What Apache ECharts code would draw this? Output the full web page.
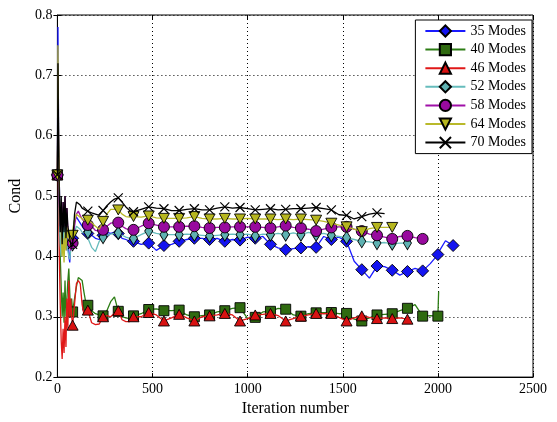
<!DOCTYPE html>
<html>
<head>
<meta charset="utf-8">
<script src="https://cdn.jsdelivr.net/npm/echarts@6/dist/echarts.min.js"></script>
<style>
  html, body { margin: 0; padding: 0; background: #fff; }
  #chart { width: 557px; height: 422px; }
</style>
</head>
<body>
<div id="chart"></div>
<script>
// Iteration numbers at which the condition estimate was recorded
const iterations = [
  0, 3, 6, 10, 15, 20, 25, 30, 35, 40, 45, 50, 55, 60, 65, 70, 75, 80,
  90, 100, 110, 120, 130, 140, 150, 160,
  180, 200, 220, 240,
  260, 280, 300, 320, 340, 360, 380, 400,
  440, 480, 520, 560, 600, 640, 680, 720, 760, 800, 840, 880, 920, 960, 1000,
  1040, 1080, 1120, 1160, 1200, 1240, 1280, 1320, 1360, 1400, 1440, 1480, 1520,
  1560, 1600, 1640, 1680, 1720, 1760, 1800, 1840, 1880, 1920, 1960, 2000,
  2004, 2040, 2080
];

const cond35 = [
  0.535, 0.78, 0.62, 0.52, 0.47, 0.44, 0.46, 0.43, 0.45, 0.42, 0.44, 0.41, 0.43, 0.40, 0.39, 0.42, 0.44, 0.43,
  0.46, 0.465, 0.46, 0.455, 0.45, 0.445, 0.44, 0.438,
  0.435, 0.43, 0.428, 0.435,
  0.44, 0.438, 0.44, 0.438, 0.43, 0.428, 0.425, 0.425,
  0.42, 0.422, 0.41, 0.418, 0.42, 0.425, 0.428, 0.43, 0.43, 0.428, 0.43, 0.425, 0.428, 0.427, 0.432,
  0.43, 0.433, 0.420, 0.414, 0.411, 0.413, 0.414, 0.416, 0.415, 0.433, 0.428, 0.432, 0.425,
  0.392, 0.378, 0.364, 0.384, 0.383, 0.377, 0.369, 0.375, 0.38, 0.376, 0.388, 0.403,
  0.407, 0.426, 0.418
];

const cond40 = [
  0.535, 0.66, 0.55, 0.45, 0.40, 0.35, 0.30, 0.34, 0.29, 0.36, 0.30, 0.33, 0.36, 0.38, 0.34, 0.30, 0.33, 0.308,
  0.33, 0.35, 0.365, 0.368, 0.36, 0.34, 0.322, 0.319,
  0.31, 0.305, 0.303, 0.3015,
  0.31, 0.325, 0.333, 0.309, 0.30, 0.298, 0.297, 0.3015,
  0.305, 0.312, 0.313, 0.31, 0.31, 0.311, 0.303, 0.300, 0.302, 0.303, 0.308, 0.31, 0.314, 0.315, 0.297,
  0.299, 0.308, 0.309, 0.314, 0.3125, 0.303, 0.301, 0.305, 0.3065, 0.307, 0.307, 0.305, 0.3055,
  0.296, 0.293, 0.298, 0.303, 0.304, 0.305, 0.31, 0.314, 0.32, 0.301, 0.302, 0.301,
  0.342
];

const cond46 = [
  0.535, 0.64, 0.50, 0.40, 0.32, 0.26, 0.23, 0.28, 0.24, 0.30, 0.25, 0.33, 0.28, 0.36, 0.30, 0.33, 0.30, 0.286,
  0.32, 0.355, 0.36, 0.355, 0.32, 0.303, 0.30, 0.311,
  0.29, 0.287, 0.288, 0.300,
  0.302, 0.30, 0.306, 0.31, 0.295, 0.292, 0.292, 0.30,
  0.30, 0.307, 0.303, 0.293, 0.298, 0.304, 0.298, 0.293, 0.300, 0.3015, 0.303, 0.3055, 0.303, 0.293, 0.297,
  0.303, 0.304, 0.3055, 0.302, 0.293, 0.297, 0.301, 0.303, 0.3055, 0.305, 0.3055, 0.299, 0.293,
  0.298, 0.3015, 0.299, 0.297, 0.298, 0.297, 0.298, 0.296
];

const cond52 = [
  0.535, 0.68, 0.55, 0.46, 0.42, 0.40, 0.44, 0.41, 0.46, 0.43, 0.45, 0.42, 0.41, 0.40, 0.395, 0.41, 0.42, 0.42,
  0.44, 0.45, 0.448, 0.445, 0.44, 0.44, 0.438, 0.44,
  0.415, 0.408, 0.425, 0.432,
  0.435, 0.437, 0.438, 0.439, 0.435, 0.432, 0.43, 0.43,
  0.436, 0.442, 0.438, 0.436, 0.436, 0.436, 0.437, 0.436, 0.435, 0.434, 0.435, 0.436, 0.437, 0.436, 0.437,
  0.434, 0.437, 0.436, 0.438, 0.436, 0.439, 0.436, 0.44, 0.436, 0.438, 0.435, 0.433, 0.431,
  0.428, 0.425, 0.424, 0.422, 0.423, 0.421, 0.422, 0.422
];

const cond58 = [
  0.535, 0.70, 0.58, 0.49, 0.45, 0.47, 0.44, 0.49, 0.45, 0.50, 0.46, 0.48, 0.44, 0.43, 0.42, 0.41, 0.415, 0.422,
  0.45, 0.47, 0.475, 0.468, 0.462, 0.458, 0.455, 0.452,
  0.45, 0.443, 0.442, 0.444,
  0.45, 0.455, 0.456, 0.456, 0.45, 0.446, 0.444, 0.444,
  0.45, 0.455, 0.452, 0.449, 0.449, 0.449, 0.45, 0.45, 0.448, 0.447, 0.448, 0.448, 0.449, 0.449, 0.449,
  0.449, 0.448, 0.447, 0.449, 0.451, 0.448, 0.447, 0.445, 0.442, 0.445, 0.448, 0.449, 0.449,
  0.445, 0.442, 0.437, 0.435, 0.432, 0.429, 0.433, 0.434, 0.431, 0.429
];

const cond64 = [
  0.535, 0.75, 0.62, 0.52, 0.46, 0.44, 0.40, 0.43, 0.39, 0.44, 0.41, 0.45, 0.43, 0.44, 0.42, 0.43, 0.435, 0.435,
  0.46, 0.47, 0.468, 0.465, 0.462, 0.46, 0.458, 0.46,
  0.456, 0.45, 0.445, 0.458,
  0.47, 0.478, 0.478, 0.477, 0.47, 0.466, 0.465, 0.466,
  0.465, 0.467, 0.464, 0.463, 0.463, 0.463, 0.464, 0.466, 0.463, 0.462, 0.462, 0.463, 0.462, 0.462, 0.463,
  0.462, 0.462, 0.462, 0.461, 0.462, 0.461, 0.462, 0.461, 0.46, 0.458, 0.455, 0.452, 0.449,
  0.445, 0.441, 0.446, 0.448, 0.448, 0.448
];

const cond70 = [
  0.535, 0.72, 0.60, 0.50, 0.44, 0.50, 0.42, 0.49, 0.44, 0.50, 0.43, 0.48, 0.45, 0.44, 0.43, 0.42, 0.415, 0.42,
  0.47, 0.49, 0.49, 0.485, 0.48, 0.478, 0.476, 0.475,
  0.472, 0.47, 0.468, 0.476,
  0.484, 0.49, 0.495, 0.497, 0.49, 0.482, 0.476, 0.474,
  0.478, 0.482, 0.48, 0.479, 0.476, 0.476, 0.478, 0.479, 0.477, 0.477, 0.48, 0.482, 0.48, 0.481, 0.479,
  0.477, 0.478, 0.479, 0.477, 0.478, 0.479, 0.479, 0.48, 0.481, 0.479, 0.477, 0.469, 0.468,
  0.462, 0.466, 0.47, 0.472, 0.471
];

const seriesNames = ['35 Modes', '40 Modes', '46 Modes', '52 Modes', '58 Modes', '64 Modes', '70 Modes'];
const seriesValues = [cond35, cond40, cond46, cond52, cond58, cond64, cond70];
const xTicks = { min: 0, max: 2500, step: 500 };
const yTicks = { min: 0.2, max: 0.8, step: 0.1 };

// Marker every 80 iterations
const markEvery = 80;

const styles = [
  { color: '#1414f0', line: '#1a1aff', symbol: 'diamond', size: [12, 12], rotate: 0 },
  { color: '#2f6a10', line: '#2c7d14', symbol: 'rect', size: [10, 10], rotate: 0 },
  { color: '#d81212', line: '#e01818', symbol: 'triangle', size: [11, 10], rotate: 0 },
  { color: '#5fb2b2', line: '#66bcbc', symbol: 'diamond', size: [8, 13], rotate: 0 },
  { color: '#980a9e', line: '#a010a8', symbol: 'circle', size: [11, 11], rotate: 0 },
  { color: '#b6b61e', line: '#b9b92a', symbol: 'triangle', size: [11, 10], rotate: 180 },
  { color: '#000000', line: '#000000', symbol: 'path://M0,0L10,10M0,10L10,0', size: [9, 9], rotate: 0 }
];

const serif = 'Liberation Serif, DejaVu Serif, serif';

const series = seriesNames.map((name, k) => {
  const st = styles[k];
  const vals = seriesValues[k];
  const data = vals.map((v, i) => [iterations[i], v]);
  const isCross = k === 6;
  return {
    name,
    type: 'line',
    data,
    symbol: st.symbol,
    symbolRotate: st.rotate,
    symbolSize: (val) => (val[0] % markEvery === 0 ? st.size : 0),
    showSymbol: true,
    showAllSymbol: true,
    clip: true,
    lineStyle: { color: st.line, width: 1.3 },
    itemStyle: {
      color: isCross ? '#000' : st.color,
      borderColor: '#000',
      borderWidth: isCross ? 1.2 : 0.9
    },
    emphasis: { disabled: true },
    z: 2 + k
  };
});

const chart = echarts.init(document.getElementById('chart'), null, { renderer: 'canvas' });

const axisText = { color: '#000', fontFamily: serif, fontSize: 14 };

chart.setOption({
  animation: false,
  backgroundColor: '#fff',
  grid: {
    left: 57, right: 24, top: 15, bottom: 39,
    show: true, borderColor: '#000', borderWidth: 1, backgroundColor: 'transparent'
  },
  legend: {
    data: seriesNames,
    orient: 'vertical',
    right: 25,
    top: 20,
    padding: [4, 6, 4, 9],
    itemWidth: 40,
    itemHeight: 14,
    itemGap: 4.6,
    backgroundColor: '#fff',
    borderColor: '#000',
    borderWidth: 1,
    borderRadius: 0,
    textStyle: { color: '#000', fontFamily: serif, fontSize: 14 }
  },
  xAxis: [
    {
      type: 'value',
      min: xTicks.min, max: xTicks.max, interval: xTicks.step,
      name: 'Iteration number',
      nameLocation: 'middle',
      nameGap: 21,
      nameTextStyle: { color: '#000', fontFamily: serif, fontSize: 16 },
      axisLine: { show: true, lineStyle: { color: '#000', width: 1 } },
      axisTick: { show: true, inside: true, length: 4, lineStyle: { color: '#000' } },
      axisLabel: { ...axisText, margin: 5, formatter: (v) => String(v) },
      splitLine: { show: true, lineStyle: { color: '#000', width: 1, type: [1, 3] } }
    },
    {
      type: 'value', position: 'top',
      min: xTicks.min, max: xTicks.max, interval: xTicks.step,
      axisLine: { show: false },
      axisTick: { show: true, inside: true, length: 4, lineStyle: { color: '#000' } },
      axisLabel: { show: false },
      splitLine: { show: false }
    }
  ],
  yAxis: [
    {
      type: 'value',
      min: yTicks.min, max: yTicks.max, interval: yTicks.step,
      name: 'Cond',
      nameLocation: 'middle',
      nameGap: 28,
      nameTextStyle: { color: '#000', fontFamily: serif, fontSize: 16 },
      axisLine: { show: true, lineStyle: { color: '#000', width: 1 } },
      axisTick: { show: true, inside: true, length: 4, lineStyle: { color: '#000' } },
      axisLabel: { ...axisText, margin: 5, formatter: (v) => v.toFixed(1) },
      splitLine: { show: true, lineStyle: { color: '#000', width: 1, type: [1, 3] } }
    },
    {
      type: 'value', position: 'right',
      min: yTicks.min, max: yTicks.max, interval: yTicks.step,
      axisLine: { show: false },
      axisTick: { show: true, inside: true, length: 4, lineStyle: { color: '#000' } },
      axisLabel: { show: false },
      splitLine: { show: false }
    }
  ],
  series
});
</script>
</body>
</html>
